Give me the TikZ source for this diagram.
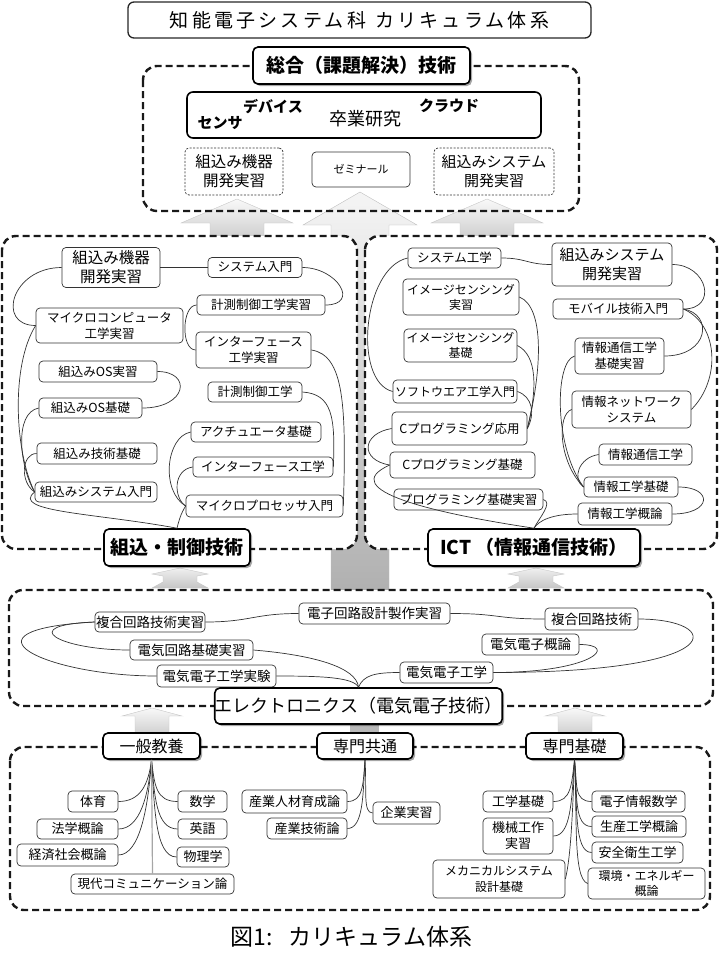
\documentclass[tikz,border=0pt]{standalone}
\usepackage{fontspec}
\setmainfont{Noto Sans CJK JP}
\newfontfamily\titlefont[LetterSpace=17]{Noto Sans CJK JP}
\usetikzlibrary{shadows}

\tikzset{
    course/.style={draw=black!80,line width=0.7pt,rounded corners=4pt,fill=white,align=center,inner sep=1pt,font=\fontsize{12.5}{16}\selectfont},
    plan/.style={course,dash pattern=on 2pt off 1.5pt},
    sz/.style 2 args={minimum width=#1,minimum height=#2},
    area/.style={draw=black!90,line width=2.4pt,dash pattern=on 7pt off 4pt,rounded corners=14pt},
    heading/.style={draw=black,line width=1.6pt,rounded corners=5pt,fill=white,inner sep=0pt,drop shadow={shadow xshift=2pt,shadow yshift=-2pt,fill=black,opacity=0.35}},
    keyword/.style={font=\bfseries\fontsize{15}{18}\selectfont},
    link/.style={draw=black!80,line width=0.7pt},
    blockup/.style={top color=gray!5,bottom color=gray!40,draw=gray!45,line width=0.4pt}
}

\begin{document}
\begin{tikzpicture}[x=1pt,y=-1pt]
    \useasboundingbox (0,0) rectangle (720,967);

    \node[draw=black!85,line width=1.3pt,rounded corners=6pt,sz={463}{36},font={\fontsize{19}{22}\titlefont}] (title) at (359.5,20) {知能電子システム科\hspace{9pt}カリキュラム体系};

    \foreach \cx in {237,487}
        \shadedraw[blockup] (\cx,199) -- (\cx+56,223) -- (\cx+27,223) -- (\cx+27,240) -- (\cx-27,240) -- (\cx-27,223) -- (\cx-56,223) -- cycle;
    \shadedraw[top color=gray!8,bottom color=gray!62,draw=gray!50,line width=0.4pt] (360,192) -- (417,225) -- (389,225) -- (389,592) -- (331,592) -- (331,225) -- (303,225) -- cycle;

    \draw[area] (143,66) rectangle (579,211);
    \draw[area,fill=white] (2,236) rectangle (357,549);
    \draw[area,fill=white] (365,236) rectangle (717,549);
    \draw[area,fill=white] (9,590) rectangle (713,706);

    \foreach \cx in {180,536}
        \shadedraw[top color=gray!12,bottom color=gray!45,draw=gray!45,line width=0.4pt] (\cx,568) -- (\cx+28,574) -- (\cx+17,576) -- (\cx+17,582) -- (\cx+28,588) -- (\cx-28,588) -- (\cx-17,582) -- (\cx-17,576) -- (\cx-28,574) -- cycle;
    \foreach \cx in {152,575}
        \shadedraw[blockup] (\cx,708) -- (\cx+30,716) -- (\cx+17,716) -- (\cx+17,736) -- (\cx-17,736) -- (\cx-17,716) -- (\cx-30,716) -- cycle;
    \fill[gray!55] (350,720) rectangle (379,736);

    \draw[area] (10,747) rectangle (710,910);

    % 総合
    \node[draw=black,line width=1.6pt,rounded corners=6pt,sz={354}{46}] (sotsuken) at (364,115) {};
    \node[keyword] (sensa) at (220,123) {センサ};
    \node[keyword] (debaisu) at (273,107) {デバイス};
    \node[keyword] (kuraudo) at (449,106) {クラウド};
    \node[font=\fontsize{18}{21}\selectfont] (sotsutxt) at (365,119) {卒業研究};
    \node[plan,sz={98}{47},font=\fontsize{15.5}{19}\selectfont] (kikiplan) at (234,171.5) {組込み機器\\開発実習};
    \node[course,sz={98}{35},font=\fontsize{11}{13}\selectfont] (zemi) at (361,169.5) {ゼミナール};
    \node[plan,sz={120}{47},font=\fontsize{15}{19}\selectfont] (sysplan) at (494,171.5) {組込みシステム\\開発実習};
    \node[heading,sz={217}{37},font=\bfseries\fontsize{19}{22}\selectfont] (sogo) at (361.5,65.5) {総合（課題解決）技術};

    % 組込・制御
    \node[course,sz={98}{40},font=\fontsize{15.5}{19}\selectfont] (kikijs) at (111,267.5) {組込み機器\\開発実習};
    \node[course,sz={94}{20}] (sysnyu) at (255,267.5) {システム入門};
    \node[course,sz={128}{20}] (kskjs) at (261,305) {計測制御工学実習};
    \node[course,sz={147}{35}] (mcjs) at (109.5,325.5) {マイクロコンピュータ\\工学実習};
    \node[course,sz={115}{36}] (iftjs) at (253.5,350) {インターフェース\\工学実習};
    \node[course,sz={118}{21}] (osjs) at (98,371.5) {組込みOS実習};
    \node[course,sz={94}{20}] (kskk) at (255,392) {計測制御工学};
    \node[course,sz={103}{20}] (osks) at (90.5,408) {組込みOS基礎};
    \node[course,sz={130}{20}] (actk) at (256,432) {アクチュエータ基礎};
    \node[course,sz={120}{21}] (gjks) at (97,453.5) {組込み技術基礎};
    \node[course,sz={140}{20}] (iftk) at (263,467) {インターフェース工学};
    \node[course,sz={122}{20}] (sysin) at (96,492) {組込みシステム入門};
    \node[course,sz={157}{22}] (mpnyu) at (264.5,506) {マイクロプロセッサ入門};
    \node[heading,sz={146}{37},font=\bfseries\fontsize{19}{22}\selectfont] (seigyo) at (177,547.5) {組込・制御技術};

    \draw[link] (kikijs.east) -- (sysnyu.west);
    \draw[link] (sysnyu.east) .. controls +(35,0) and +(35,0) .. (kskjs.east);
    \draw[link] (kskjs.west) .. controls +(-15,0) and +(-15,0) .. (iftjs.west);
    \draw[link] (kikijs.west) .. controls +(-50,0) and +(-40,0) .. (mcjs.west);
    \draw[link] (mcjs.west) .. controls +(-25,40) and +(-20,-40) .. (sysin.west);
    \draw[link] (osjs.east) .. controls +(35,0) and +(45,0) .. (osks.east);
    \draw[link] (osks.west) .. controls +(-25,5) and +(-15,-25) .. (sysin.west);
    \draw[link] (gjks.west) .. controls +(-15,0) and +(-15,-10) .. (sysin.west);
    \draw[link] (sysin.west) .. controls +(-25,20) and +(-80,-15) .. (seigyo.north);
    \draw[link] (iftjs.east) .. controls +(33,5) and +(3,-100) .. (mpnyu.east);
    \draw[link] (kskk.east) .. controls +(30,2) and +(2,-50) .. (iftk.east);
    \draw[link] (actk.west) .. controls +(-25,5) and +(-25,-15) .. (mpnyu.west);
    \draw[link] (iftk.west) .. controls +(-20,3) and +(-12,-8) .. (mpnyu.west);
    \draw[link] (mpnyu.west) .. controls +(-5,8) and +(2,-8) .. (seigyo.north);

    % ICT
    \node[course,sz={93}{20}] (sysko) at (454.5,258) {システム工学};
    \node[course,sz={120}{43},font=\fontsize{15}{19}\selectfont] (kumisysjs) at (612,264.5) {組込みシステム\\開発実習};
    \node[course,sz={116}{36},font=\fontsize{12}{15}\selectfont] (isjs) at (461,297) {イメージセンシング\\実習};
    \node[course,sz={130}{20}] (mobile) at (618,309) {モバイル技術入門};
    \node[course,sz={113}{33},font=\fontsize{12}{15}\selectfont] (isks) at (460.5,345.5) {イメージセンシング\\基礎};
    \node[course,sz={89}{36}] (jtkjs) at (619.5,356) {情報通信工学\\基礎実習};
    \node[course,sz={124}{23},font=\fontsize{12}{15}\selectfont] (softnyu) at (455,391.5) {ソフトウエア工学入門};
    \node[course,sz={119}{37}] (jnet) at (631.5,409.5) {情報ネットワーク\\システム};
    \node[course,sz={135}{33}] (capp) at (459.5,428.5) {Cプログラミング応用};
    \node[course,sz={93}{21}] (jtk) at (645.5,454.5) {情報通信工学};
    \node[course,sz={145}{26}] (cks) at (462.5,465) {Cプログラミング基礎};
    \node[course,sz={94}{20}] (jkks) at (631,487) {情報工学基礎};
    \node[course,sz={149}{21}] (pksjs) at (468.5,499.5) {プログラミング基礎実習};
    \node[course,sz={94}{22}] (jkgairon) at (625,514) {情報工学概論};
    \node[heading,sz={212}{37},font=\bfseries\fontsize{19}{22}\selectfont] (ict) at (534,547.5) {ICT （情報通信技術）};

    \draw[link] (sysko.east) .. controls +(25,0) and +(-25,0) .. (kumisysjs.west);
    \draw[link] (kumisysjs.east) .. controls +(35,0) and +(35,0) .. (mobile.east);
    \draw[link] (mobile.east) .. controls +(30,5) and +(45,0) .. (jtkjs.east);
    \draw[link] (mobile.east) .. controls +(35,15) and +(30,-30) .. (jnet.east);
    \draw[link] (sysko.west) .. controls +(-45,10) and +(-40,-10) .. (softnyu.west);
    \draw[link] (isjs.east) .. controls +(25,10) and +(15,-60) .. (capp.east);
    \draw[link] (isks.east) .. controls +(20,10) and +(10,-40) .. (capp.east);
    \draw[link] (softnyu.east) .. controls +(15,5) and +(8,-15) .. (capp.east);
    \draw[link] (capp.west) .. controls +(-30,5) and +(-30,-5) .. (cks.west);
    \draw[link] (cks.west) .. controls +(-55,25) and +(-100,-15) .. (ict.north);
    \draw[link] (pksjs.east) .. controls +(10,3) and +(5,-10) .. (ict.north);
    \draw[link] (jkgairon.west) .. controls +(-25,0) and +(5,-8) .. (ict.north);
    \draw[link] (jtkjs.west) .. controls +(-20,5) and +(-30,-40) .. (jkks.west);
    \draw[link] (jnet.west) .. controls +(-15,5) and +(-25,-25) .. (jkks.west);
    \draw[link] (jtk.west) .. controls +(-20,3) and +(-12,-8) .. (jkks.west);
    \draw[link] (jkks.east) .. controls +(35,0) and +(40,0) .. (jkgairon.east);

    % エレクトロニクス
    \node[course,sz={110}{20},font=\fontsize{13.5}{16}\selectfont] (fgjs) at (150,622) {複合回路技術実習};
    \node[course,sz={151}{21},font=\fontsize{13.5}{16}\selectfont] (dsk) at (374.5,613.5) {電子回路設計製作実習};
    \node[course,sz={93}{22},font=\fontsize{13.5}{16}\selectfont] (fgk) at (591.5,619) {複合回路技術};
    \node[course,sz={123}{20},font=\fontsize{13.5}{16}\selectfont] (dkkjs) at (191.5,650) {電気回路基礎実習};
    \node[course,sz={97}{21},font=\fontsize{13.5}{16}\selectfont] (ddg) at (530.5,644.5) {電気電子概論};
    \node[course,sz={119}{22},font=\fontsize{13.5}{16}\selectfont] (ddejk) at (216.5,676) {電気電子工学実験};
    \node[course,sz={93}{21},font=\fontsize{13.5}{16}\selectfont] (dde) at (446.5,672.5) {電気電子工学};
    \node[heading,sz={287}{36},font=\fontsize{18}{21}\selectfont] (elec) at (358.5,706) {エレクトロニクス（電気電子技術）};

    \draw[link] (fgjs.east) .. controls +(45,0) and +(-45,0) .. (dsk.west);
    \draw[link] (dsk.east) .. controls +(50,0) and +(-50,0) .. (fgk.west);
    \draw[link] (fgk.east) .. controls +(85,0) and +(240,0) .. (dde.east);
    \draw[link] (ddg.east) .. controls +(40,0) and +(100,0) .. (dde.east);
    \draw[link] (dde.west) .. controls +(-25,0) and +(5,-12) .. (elec.north);
    \draw[link] (ddejk.east) .. controls +(45,0) and +(-5,-10) .. (elec.north);
    \draw[link] (dkkjs.east) .. controls +(60,5) and +(-2,-20) .. (elec.north);
    \draw[link] (fgjs.west) .. controls +(-145,8) and +(-110,0) .. (ddejk.west);
    \draw[link] (fgjs.west) .. controls +(-80,3) and +(-70,0) .. (dkkjs.west);

    % 一般教養・専門共通・専門基礎
    \node[heading,sz={97}{26},font=\fontsize{16}{19}\selectfont] (ippan) at (151.5,746) {一般教養};
    \node[heading,sz={96}{26},font=\fontsize{16}{19}\selectfont] (senkyo) at (365,746) {専門共通};
    \node[heading,sz={97}{26},font=\fontsize{16}{19}\selectfont] (senki) at (574.5,746) {専門基礎};

    \node[course,sz={50}{21},font=\fontsize{13}{16}\selectfont] (taiiku) at (93,801.5) {体育};
    \node[course,sz={81}{20},font=\fontsize{13}{16}\selectfont] (hougaku) at (77.5,829) {法学概論};
    \node[course,sz={101}{22},font=\fontsize{13}{16}\selectfont] (keizai) at (67.5,855) {経済社会概論};
    \node[course,sz={49}{21},font=\fontsize{13}{16}\selectfont] (suugaku) at (202.5,801.5) {数学};
    \node[course,sz={49}{20},font=\fontsize{13}{16}\selectfont] (eigo) at (202.5,829) {英語};
    \node[course,sz={52}{20},font=\fontsize{13}{16}\selectfont] (butsuri) at (203,857) {物理学};
    \node[course,sz={163}{20},font=\fontsize{12.5}{16}\selectfont] (gendai) at (152.5,884) {現代コミュニケーション論};
    \node[course,sz={105}{23},font=\fontsize{13}{16}\selectfont] (jinzai) at (294.5,801.5) {産業人材育成論};
    \node[course,sz={80}{21},font=\fontsize{13}{16}\selectfont] (sangi) at (307,828.5) {産業技術論};
    \node[course,sz={67}{22},font=\fontsize{13}{16}\selectfont] (kigyo) at (406.5,813) {企業実習};
    \node[course,sz={70}{21},font=\fontsize{13}{16}\selectfont] (kougaku) at (518,801.5) {工学基礎};
    \node[course,sz={70}{36},font=\fontsize{13}{16}\selectfont] (kikai) at (518,836) {機械工作\\実習};
    \node[course,sz={132}{38},font=\fontsize{12}{16}\selectfont] (meka) at (499,879) {メカニカルシステム\\設計基礎};
    \node[course,sz={93}{21},font=\fontsize{13}{16}\selectfont] (denshi) at (638.5,801.5) {電子情報数学};
    \node[course,sz={94}{21},font=\fontsize{13}{16}\selectfont] (seisan) at (639,826.5) {生産工学概論};
    \node[course,sz={91}{21},font=\fontsize{13}{16}\selectfont] (anzen) at (637.5,852.5) {安全衛生工学};
    \node[course,sz={117}{31},font=\fontsize{12}{15}\selectfont] (kankyo) at (646.5,883.5) {環境・エネルギー\\概論};

    \foreach \n/\d in {taiiku/25,hougaku/35,keizai/45}
        \draw[link] (ippan.south) .. controls +(-3,\d) and +(22,0) .. (\n.east);
    \foreach \n/\d in {suugaku/25,eigo/35,butsuri/45}
        \draw[link] (ippan.south) .. controls +(3,\d) and +(-22,0) .. (\n.west);
    \draw[gray!70,line width=1.2pt] (ippan.south) -- (gendai.north);
    \foreach \n/\d in {jinzai/25,sangi/35}
        \draw[link] (senkyo.south) .. controls +(-2,\d) and +(16,0) .. (\n.east);
    \draw[link] (senkyo.south) .. controls +(2,30) and +(-10,0) .. (kigyo.west);
    \foreach \n/\d in {kougaku/25,kikai/40}
        \draw[link] (senki.south) .. controls +(-3,\d) and +(18,0) .. (\n.east);
    \draw[link] (senki.south) .. controls +(-2,60) and +(5,-20) .. (meka.east);
    \foreach \n/\d in {denshi/25,seisan/35,anzen/45}
        \draw[link] (senki.south) .. controls +(3,\d) and +(-18,0) .. (\n.west);
    \draw[link] (senki.south) .. controls +(3,55) and +(-15,-5) .. (kankyo.west);

    \node[anchor=west,font=\fontsize{23}{26}\selectfont] (caption) at (227,937) {図1:\hspace{16pt}カリキュラム体系};
\end{tikzpicture}
\end{document}
